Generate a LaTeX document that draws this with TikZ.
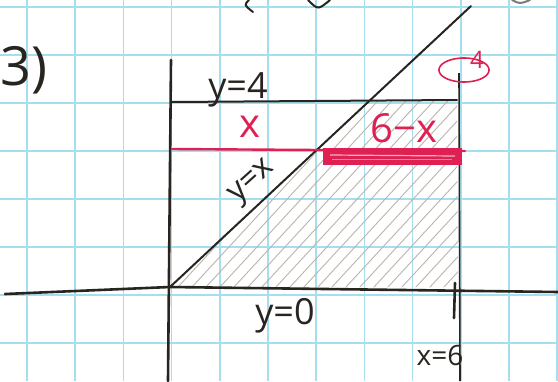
\documentclass[tikz,border=0pt]{standalone}
\usepackage{fontspec}
\setmainfont{Open Sans}
\definecolor{gridc}{RGB}{165,222,238}
\definecolor{pencil}{RGB}{40,36,32}
\definecolor{pen}{RGB}{222,32,82}
\definecolor{hatch}{RGB}{190,180,172}
\tikzset{
  gridline/.style={draw=gridc,line width=1.6pt},
  axis/.style={draw=pencil,line width=2.6pt,line cap=round},
  curve/.style={draw=pencil,line width=2pt,line cap=round},
  redline/.style={draw=pen,line width=2.4pt,line cap=round},
  lbl/.style={text=pencil,inner sep=0pt},
  rlbl/.style={text=pen,inner sep=0pt},
}
\begin{document}
\begin{tikzpicture}[x=1pt,y=-1pt]
\useasboundingbox (0,0) rectangle (558,381);
\fill[white] (0,0) rectangle (558,381);
% grid
\foreach \i in {0,...,11} { \draw[gridline] ({27+48.2*\i},0) -- ({27+48.2*\i},381); }
\foreach \j in {0,...,7} { \draw[gridline] (0,{7+48*\j}) -- (558,{7+48*\j}); }
% key points
\coordinate (O) at (170,287);
\coordinate (xl) at (5,294);
\coordinate (xr) at (558,292);
\coordinate (yt) at (171,60);
\coordinate (yb) at (168,381);
\coordinate (P) at (374,100);
\coordinate (Q) at (457,100);
\coordinate (L4) at (172,102);
\coordinate (D) at (471,6);
\coordinate (Vt) at (459,73);
\coordinate (Vb) at (460,381);
\coordinate (R) at (458,287);
% shading
\begin{scope}
\clip (O) -- (P) -- (Q) -- (R) -- cycle;
\foreach \k in {0,...,34} {
  \draw[hatch,line width=0.9pt] ({110+14*\k},300) -- ({110+14*\k+240},40);
}
\end{scope}
% axes
\draw[axis] (xl) -- (O) -- (xr);
\draw[axis] (yt) -- (yb);
% lines
\draw[curve] (L4) -- (Q);
\draw[curve] (O) -- (D);
\draw[draw=pencil,line width=1.6pt] (Vt) -- (Vb);
\coordinate (t1) at (455,283);
\coordinate (t2) at (454,318);
\draw[axis] (t1) -- (t2);
% red strip
\coordinate (r1) at (172,149);
\coordinate (r2) at (465,151);
\draw[redline] (r1) -- (r2);
\node[draw=pen,line width=2pt,fill=pen,minimum width=137pt,minimum height=15pt,inner sep=0pt] (strip) at (392.5,156) {};
\draw[pen!35,line width=1.2pt] (330,155) -- (455,156);
\draw[pen!55,line width=0.8pt] (332,159) -- (452,159);
% red circled 4
\draw[pen,line width=1.6pt] plot[domain=0:360,samples=72,smooth] ({464+25*cos(\x)},{70+12*sin(\x)});
\node[rlbl,font=\fontsize{24}{24}\selectfont] (four) at (477,60) {4};
% labels
\node[lbl,font=\fontsize{54}{54}\selectfont,anchor=west] (num) at (0,70) {3)};
\node[lbl,font=\fontsize{36}{36}\selectfont] (l4) at (238,90) {y=4};
\node[rlbl,font=\fontsize{40}{40}\selectfont] (lx) at (250,127) {x};
\node[rlbl,font=\fontsize{40}{40}\selectfont] (l6x) at (404,128) {6−x};
\node[lbl,font=\fontsize{32}{32}\selectfont,rotate=42] (lyx) at (253,183) {y=x};
\node[lbl,font=\fontsize{36}{36}\selectfont] (l0) at (285,316) {y=0};
\node[lbl,font=\fontsize{28}{28}\selectfont] (l6) at (440,355) {x=6};
% fragments at top edge
\draw[curve] (249,0) .. controls (244,5) .. (253,12);
\draw[curve] (308,0) .. controls (318,10) .. (330,0);
\draw[curve,pencil!60] (512,0) .. controls (520,4) .. (530,0);
\end{tikzpicture}
\end{document}
